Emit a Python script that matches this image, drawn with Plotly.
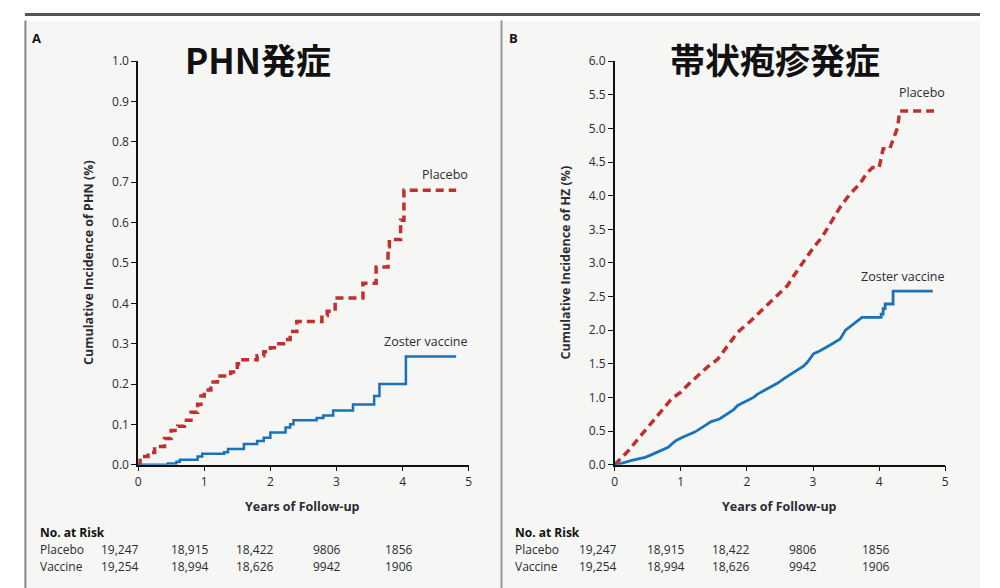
import plotly.graph_objects as go

# ---------------- data ----------------
years_ticks = [0, 1, 2, 3, 4, 5]

phn_placebo_x = [0, 0.03, 0.15, 0.25, 0.4, 0.5, 0.6, 0.7, 0.8, 0.9, 0.95, 1.0, 1.1, 1.2, 1.4, 1.5, 1.55,
                 1.8, 1.9, 2.0, 2.1, 2.2, 2.3, 2.4, 2.78, 2.86, 2.98, 3.4, 3.6, 3.78, 3.8, 3.97, 4.02, 4.81]
phn_placebo_y = [0, 0.02, 0.03, 0.045, 0.065, 0.085, 0.095, 0.11, 0.13, 0.15, 0.17, 0.185, 0.205, 0.22, 0.23,
                 0.25, 0.26, 0.27, 0.28, 0.29, 0.30, 0.31, 0.33, 0.355, 0.37, 0.38, 0.413, 0.45, 0.49, 0.54,
                 0.558, 0.606, 0.68, 0.68]

phn_vaccine_x = [0, 0.45, 0.58, 0.63, 0.9, 0.97, 1.3, 1.36, 1.6, 1.8, 1.9, 2.0, 2.23, 2.3, 2.35, 2.7, 2.8,
                 2.95, 3.25, 3.57, 3.65, 4.05, 4.81]
phn_vaccine_y = [0, 0.003, 0.007, 0.012, 0.02, 0.027, 0.031, 0.039, 0.051, 0.059, 0.067, 0.08, 0.092, 0.10,
                 0.11, 0.116, 0.122, 0.134, 0.149, 0.17, 0.20, 0.268, 0.268]

# HZ curves: many tiny steps, traced as read-off vertices (corners included at the coarse late steps)
hz_placebo_x = [0, 0.1, 0.2, 0.36, 0.5, 0.66, 0.75, 0.86, 1.0, 1.12, 1.26, 1.4, 1.56, 1.7, 1.86, 2.06, 2.2,
                2.36, 2.5, 2.61, 2.7, 2.84, 3.0, 3.14, 3.26, 3.41, 3.56, 3.71, 3.81, 3.9, 4.0, 4.03, 4.06,
                4.16, 4.21, 4.28, 4.31, 4.83]
hz_placebo_y = [0, 0.1, 0.2, 0.39, 0.55, 0.73, 0.85, 0.98, 1.08, 1.2, 1.33, 1.45, 1.57, 1.75, 1.97, 2.14,
                2.27, 2.42, 2.55, 2.66, 2.8, 3.0, 3.22, 3.39, 3.59, 3.83, 4.03, 4.18, 4.33, 4.42, 4.42, 4.55,
                4.70, 4.70, 4.82, 5.02, 5.26, 5.26]

hz_vaccine_x = [0, 0.1, 0.26, 0.46, 0.56, 0.66, 0.76, 0.81, 0.88, 0.93, 1.01, 1.1, 1.21, 1.3, 1.36, 1.46,
                1.585, 1.71, 1.8, 1.86, 2.01, 2.1, 2.16, 2.26, 2.36, 2.46, 2.56, 2.66, 2.76, 2.86, 2.91,
                2.97, 3.01, 3.1, 3.16, 3.26, 3.41, 3.49, 3.61, 3.68, 3.74, 4.03, 4.03, 4.06, 4.06, 4.09,
                4.09, 4.21, 4.21, 4.81]
hz_vaccine_y = [0, 0.02, 0.064, 0.11, 0.15, 0.19, 0.23, 0.26, 0.32, 0.36, 0.40, 0.44, 0.485, 0.54, 0.58,
                0.64, 0.68, 0.76, 0.82, 0.88, 0.955, 1.0, 1.05, 1.1, 1.15, 1.21, 1.28, 1.34, 1.40, 1.47,
                1.52, 1.6, 1.65, 1.69, 1.72, 1.78, 1.87, 2.0, 2.09, 2.15, 2.19, 2.19, 2.24, 2.24, 2.32, 2.32,
                2.39, 2.39, 2.58, 2.58]

risk_rows = ["Placebo", "Vaccine"]
risk_placebo = ["19,247", "18,915", "18,422", "9806", "1856"]
risk_vaccine = ["19,254", "18,994", "18,626", "9942", "1906"]

panel_titles = ["PHN発症", "帯状疱疹発症"]
panel_letters = ["A", "B"]
y_titles = ["Cumulative Incidence of PHN (%)", "Cumulative Incidence of HZ (%)"]
x_title = "Years of Follow-up"

# ---------------- styling ----------------
OFF = 8                 # default body margin of the page
W, H = 1000 - 2 * OFF, 592
VS = 0.975              # vertical scale observed between page and photograph
RED = "#c0302c"
BLUE = "#1a72b8"
TXT = "#2b2b33"
FONT = "Open Sans"


def px(x):
    return (x - OFF) / W


def py(y):
    return 1 - (y / VS - 2 * OFF) / H


fig = go.Figure()

fig.add_trace(go.Scatter(x=phn_placebo_x, y=phn_placebo_y, mode="lines", line_shape="hv",
                         line=dict(color=RED, width=3.5, dash="8px,5px"), xaxis="x", yaxis="y",
                         showlegend=False))
fig.add_trace(go.Scatter(x=phn_vaccine_x, y=phn_vaccine_y, mode="lines", line_shape="hv",
                         line=dict(color=BLUE, width=2.5), xaxis="x", yaxis="y", showlegend=False))
fig.add_trace(go.Scatter(x=hz_placebo_x, y=hz_placebo_y, mode="lines", line_shape="linear",
                         line=dict(color=RED, width=3.5, dash="8px,5px"), xaxis="x2", yaxis="y2",
                         showlegend=False))
fig.add_trace(go.Scatter(x=hz_vaccine_x, y=hz_vaccine_y, mode="lines", line_shape="linear",
                         line=dict(color=BLUE, width=2.8), xaxis="x2", yaxis="y2", showlegend=False))

axis_common = dict(showgrid=False, zeroline=False, showline=True, linecolor="#111", linewidth=1.5,
                   ticks="outside", ticklen=5, tickwidth=1.2, tickcolor="#111",
                   tickfont=dict(family=FONT, size=12, color=TXT))

ydom = [py(465), py(60)]
fig.update_layout(
    width=W, height=H,
    margin=dict(l=0, r=0, t=0, b=0),
    paper_bgcolor="white",
    plot_bgcolor="rgba(0,0,0,0)",
    xaxis=dict(domain=[px(136), px(469)], range=[0, 5], tickvals=years_ticks, anchor="y", **axis_common),
    yaxis=dict(domain=ydom, range=[0, 1.0], dtick=0.1, tickformat=".1f", anchor="x", **axis_common),
    xaxis2=dict(domain=[px(616), px(949)], range=[0, 5], tickvals=years_ticks, anchor="y2", **axis_common),
    yaxis2=dict(domain=ydom, range=[0, 6.0], dtick=0.5, tickformat=".1f", anchor="x2", **axis_common),
)

shapes = [
    dict(type="rect", xref="paper", yref="paper", x0=px(22), x1=px(984), y0=0, y1=py(19),
         fillcolor="#f6f6f4", line=dict(width=0), layer="below"),
    dict(type="line", xref="paper", yref="paper", x0=px(22), x1=px(984), y0=py(13), y1=py(13),
         line=dict(color="#555", width=3)),
    dict(type="line", xref="paper", yref="paper", x0=px(22.5), x1=px(22.5), y0=0, y1=py(19),
         line=dict(color="#888", width=2)),
    dict(type="line", xref="paper", yref="paper", x0=px(502), x1=px(502), y0=0, y1=py(19),
         line=dict(color="#999", width=2)),
]
fig.update_layout(shapes=shapes)

ann = []


def text(x, y, s, size=12, bold=False, xanchor="center", color=TXT, family=FONT, angle=0):
    ann.append(dict(xref="paper", yref="paper", x=px(x), y=py(y), text=f"<b>{s}</b>" if bold else s,
                    showarrow=False, xanchor=xanchor, yanchor="middle", textangle=angle,
                    font=dict(family=family, size=size, color=color)))


# panel letters and titles
text(27, 37, panel_letters[0], size=13, bold=True, xanchor="left", color="#111")
text(508, 37, panel_letters[1], size=13, bold=True, xanchor="left", color="#111")
text(257, 57, panel_titles[0], size=35, bold=True, color="#111", family="Noto Sans CJK JP")
text(777, 57, panel_titles[1], size=35, bold=True, color="#111", family="Noto Sans CJK JP")

# axis titles
text(86, 262, y_titles[0], size=12.5, bold=True, angle=-90)
text(566, 262, y_titles[1], size=12.5, bold=True, angle=-90)
text(302, 507, x_title, size=12.5, bold=True)
text(782, 507, x_title, size=12.5, bold=True)

# curve labels
text(445, 174, "Placebo", size=12.5)
text(425, 341, "Zoster vaccine", size=12.5)
text(926, 91, "Placebo", size=12.5)
text(906, 276, "Zoster vaccine", size=12.5)

# risk tables
cols = [[97, 167, 233, 310, 383], [578, 647, 712, 790, 863]]
lefts = [35, 514]
for p in range(2):
    text(lefts[p], 533, "No. at Risk", size=12, bold=True, xanchor="left", color="#111")
    text(lefts[p], 550, risk_rows[0], size=12, xanchor="left")
    text(lefts[p], 567, risk_rows[1], size=12, xanchor="left")
    for i in range(5):
        text(cols[p][i], 550, risk_placebo[i], size=12, xanchor="left")
        text(cols[p][i], 567, risk_vaccine[i], size=12, xanchor="left")

fig.update_layout(annotations=ann)
fig.write_html("out.html")
